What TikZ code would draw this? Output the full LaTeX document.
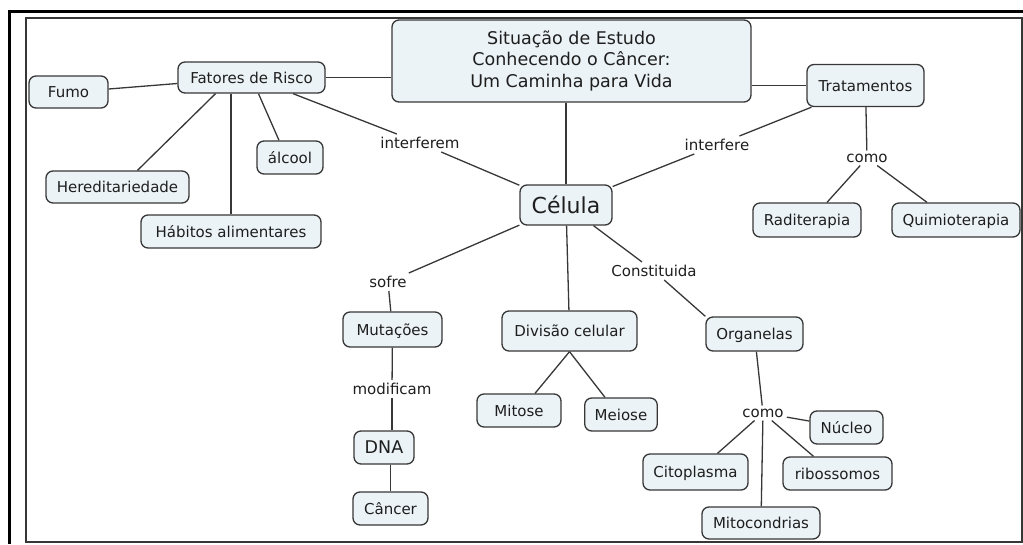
\documentclass[tikz,border=0pt]{standalone}
\usepackage{fontspec}
\setmainfont{DejaVu Sans}
\definecolor{boxfill}{RGB}{236,243,246}
\definecolor{boxline}{RGB}{55,55,55}
\definecolor{txtgray}{RGB}{30,30,30}

\begin{document}
\begin{tikzpicture}[x=1pt, y=-1pt,
	concept/.style={draw=boxline, fill=boxfill, line width=1.3pt, rounded corners=7pt,
		inner xsep=10pt, inner ysep=0pt, minimum height=33pt, text=txtgray,
		text height=11pt, text depth=0pt, font=\fontsize{15}{18}\selectfont},
	topic/.style={draw=boxline, fill=boxfill, line width=1.3pt, rounded corners=7pt,
		align=center, text=txtgray, font=\fontsize{17.5}{21.5}\selectfont},
	linkword/.style={inner sep=3pt, text=txtgray, font=\fontsize{15}{18}\selectfont},
	link/.style={draw=boxline, line width=1.3pt}]
		
		%Frame
		\useasboundingbox (0,0) rectangle (1023,544);
		\draw[line width=3pt] (9,544) -- (9,11) -- (1023,11);
		\draw[line width=1.2pt, boxline] (26,542) rectangle (1022,18);
		
		%Main topic
		\node[topic, minimum width=359pt, minimum height=82pt] (main) at (571.5,61)
		{Situação de Estudo\\Conhecendo o Câncer:\\Um Caminha para Vida};
		
		%Risk factors
		\node[concept, minimum width=147pt, minimum height=31pt] (fatores) at (251.5,77.5) {Fatores de Risco};
		\node[concept, minimum width=79pt, minimum height=32pt] (fumo) at (68.5,92) {Fumo};
		\node[concept, minimum width=66pt] (alcool) at (290,157.5) {álcool};
		\node[concept, minimum width=143pt, minimum height=32pt] (hered) at (117.5,187) {Hereditariedade};
		\node[concept, minimum width=180pt] (habitos) at (231,231.5) {Hábitos alimentares};
		\node[linkword] (interferem) at (420,143) {interferem};
		
		%Treatments
		\node[concept, minimum width=117pt, minimum height=42pt] (trat) at (865.5,85.5) {Tratamentos};
		\node[linkword] (como1) at (867,158) {como};
		\node[concept, minimum width=108pt, minimum height=34pt] (radi) at (807,220) {Raditerapia};
		\node[concept, minimum width=128pt, minimum height=34pt] (quimio) at (956,220) {Quimioterapia};
		\node[linkword] (interfere) at (717,145) {interfere};
		
		%Cell
		\node[concept, minimum width=92pt, minimum height=40pt, text height=16pt,
		font=\fontsize{22}{26}\selectfont] (celula) at (566,205) {Célula};
		\node[linkword] (sofre) at (388,282) {sofre};
		\node[linkword] (constit) at (654,271) {Constituida};
		
		%Mutations
		\node[concept, minimum width=99pt, minimum height=35pt] (mut) at (392.5,329.5) {Mutações};
		\node[linkword] (modif) at (392,389) {modificam};
		\node[concept, minimum width=60pt, text height=12.8pt,
		font=\fontsize{17.5}{21}\selectfont] (dna) at (384,447.5) {DNA};
		\node[concept, minimum width=75pt] (cancer) at (390.5,508.5) {Câncer};
		
		%Cell division
		\node[concept, minimum width=135pt, minimum height=40pt] (divisao) at (569.5,331) {Divisão celular};
		\node[concept, minimum width=84pt] (mitose) at (519,410.5) {Mitose};
		\node[concept, minimum width=70pt] (meiose) at (621,414.5) {Meiose};
		
		%Organelles
		\node[concept, minimum width=97pt, minimum height=34pt] (organelas) at (754.5,334) {Organelas};
		\node[linkword] (como2) at (763,413) {como};
		\node[concept, minimum width=73pt] (nucleo) at (846.5,427.5) {Núcleo};
		\node[concept, minimum width=105pt, minimum height=36pt] (cito) at (695.5,472) {Citoplasma};
		\node[concept, minimum width=109pt] (ribo) at (837.5,473.5) {ribossomos};
		\node[concept, minimum width=118pt, minimum height=32pt] (mitoc) at (761,523) {Mitocondrias};
		
		%Links of the risk factors
		\draw[link] (fatores.east) -- (main.west |- fatores.east);
		\draw[link] ([yshift=-6pt]fatores.west) -- ([yshift=3pt]fumo.east);
		\draw[link] ([xshift=-36pt]fatores.south) -- ([xshift=20pt]hered.north);
		\draw[link] (fatores.south -| habitos.north) -- (habitos.north);
		\draw[link] ([xshift=7pt]fatores.south) -- ([xshift=-11pt]alcool.north);
		\draw[link] (fatores) -- (interferem);
		\draw[link] (interferem) -- (celula);
		
		%Links of the treatments
		\draw[link] (main.east |- trat.west) -- (trat.west);
		\draw[link] (celula) -- (interfere);
		\draw[link] (interfere) -- (trat);
		\draw[link] (trat) -- (como1);
		\draw[link] (como1) -- ([xshift=20pt]radi.north);
		\draw[link] (como1) -- ([xshift=-29pt]quimio.north);
		
		%Links of the cell
		\draw[link] (main.south -| celula.north) -- (celula.north);
		\draw[link] (celula) -- (sofre);
		\draw[link] (sofre) -- (mut);
		\draw[link] (celula) -- (divisao);
		\draw[link] (celula) -- (constit);
		\draw[link] (constit) -- (organelas.north west);
		
		%Mutations and division
		\draw[link] (mut) -- (modif);
		\draw[link] (modif) -- (modif |- dna.north);
		\draw[link] (dna.south -| cancer.north) -- (cancer.north);
		\draw[link] (divisao.south) -- ([xshift=16pt]mitose.north);
		\draw[link] (divisao.south) -- ([xshift=-16pt]meiose.north);
		
		%Organelles
		\draw[link] (organelas) -- (como2);
		\draw[link] (como2) -- (nucleo);
		\draw[link] (como2) -- ([xshift=22pt]cito.north);
		\draw[link] (como2) -- (mitoc);
		\draw[link] (como2) -- ([xshift=-24pt]ribo.north);
		
\end{tikzpicture}
\end{document}
